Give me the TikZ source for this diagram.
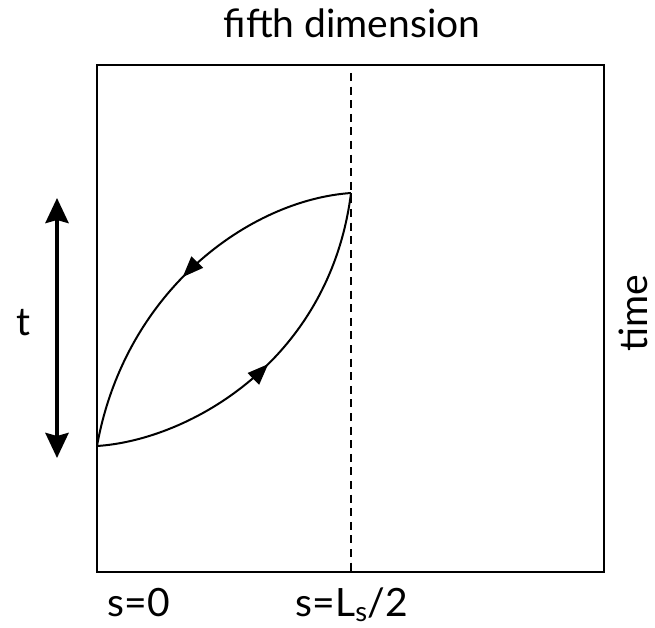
\documentclass[tikz,border=0pt]{standalone}
\usepackage{fontspec}
\setmainfont{Lato}
\usetikzlibrary{arrows.meta,decorations.markings}
\tikzset{
  frame/.style={line width=2.2pt},
  curve/.style={line width=2pt,
    postaction={decorate},
    decoration={markings, mark=at position 0.5 with {\arrow{Triangle[length=21pt,width=16pt]}}}},
  midline/.style={line width=2pt, dash pattern=on 8pt off 5.6pt},
  bigarrow/.style={line width=4pt, {Stealth[length=25pt,width=23pt,inset=3pt]}-{Stealth[length=25pt,width=23pt,inset=3pt]}},
  lbl/.style={font=\fontsize{39pt}{42pt}\selectfont, inner sep=0pt}
}
\begin{document}
\begin{tikzpicture}[x=1pt,y=-1pt]
\useasboundingbox (0,0) rectangle (655,628);
\draw[frame] (97,65) rectangle (604,572);
\coordinate (A) at (97,446);
\coordinate (B) at (351,193);
\coordinate (D1) at (351,73);
\coordinate (D2) at (351,572);
\coordinate (T1) at (57,198);
\coordinate (T2) at (57,458);
\draw[midline] (D1) -- (D2);
\draw[curve] (A) .. controls (190,440) and (330,360) .. (B);
\draw[curve] (B) .. controls (250,200) and (125,290) .. (A);
\draw[bigarrow] (T1) -- (T2);
\node[lbl, anchor=base] (fifth) at (352,38) {fifth dimension};
\node[lbl, anchor=base] (t) at (23,335) {t};
\node[lbl, rotate=90, anchor=base] (time) at (647,313) {time};
\node[lbl, anchor=base] (s0) at (139,616) {s=0};
\node[lbl, anchor=base] (sL) at (352,616) {s=L\textsubscript{s}/2};
\end{tikzpicture}
\end{document}
